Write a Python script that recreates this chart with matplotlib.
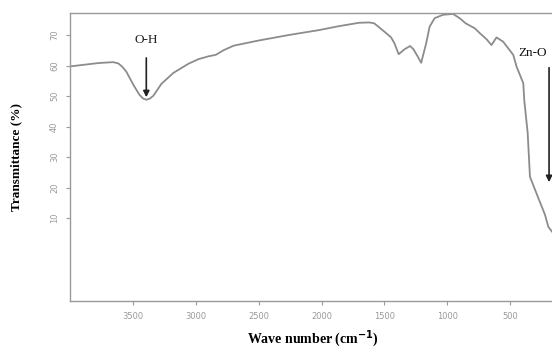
# FT-IR spectrum of ZnO nanoparticles with O-H and Zn-O bands marked.

import matplotlib.pyplot as plt

wavenumber = [4000, 3900, 3777, 3700, 3657, 3617, 3585, 3553, 3497, 3450,
              3420, 3394, 3365, 3338, 3274, 3178, 3058, 2978, 2900, 2841,
              2780, 2699, 2499, 2259, 2020, 1860, 1701, 1620, 1581, 1501,
              1447, 1421, 1387, 1341, 1296, 1269, 1235, 1208, 1168, 1141,
              1101, 1035, 955, 902, 854, 782, 742, 688, 649, 609,
              556, 476, 449, 396, 388, 361, 343, 281, 223, 197, 167]
transmittance = [59.7, 60.2, 60.8, 61.0, 61.1, 60.7, 59.6, 58.0, 53.7, 50.5,
                 49.2, 48.8, 49.2, 50.1, 54.0, 57.6, 60.6, 62.1, 63.0, 63.5,
                 65.0, 66.5, 68.2, 70.0, 71.6, 72.9, 74.0, 74.1, 73.8, 71.1,
                 69.2, 67.3, 63.7, 65.3, 66.4, 65.3, 62.9, 60.9, 67.3, 72.7,
                 75.5, 76.6, 76.9, 75.5, 73.8, 72.2, 70.6, 68.6, 66.7, 69.2,
                 67.8, 63.5, 59.6, 54.2, 48.6, 37.9, 23.6, 17.1, 11.1, 7.2, 5.6]

xticks = [3500, 3000, 2500, 2000, 1500, 1000, 500]
yticks = [10, 20, 30, 40, 50, 60, 70]

grey = '#9a9a9a'

fig = plt.figure(figsize=(5.52, 3.49), dpi=100)
ax = fig.add_axes([0.127, 0.1375, 0.8786, 0.8253])

ax.plot(wavenumber, transmittance, color='#8c8c8c', lw=1.3)

ax.set_xlim(4000, 143)
ax.set_ylim(-17.1, 77.2)
ax.set_xticks(xticks)
ax.set_yticks(yticks)
ax.tick_params(colors=grey, labelsize=6, length=3, width=0.8, pad=5)
ax.tick_params(axis='y', labelrotation=90)
for lbl in ax.get_yticklabels():
    lbl.set_va('center')
for side in ['left', 'bottom', 'top']:
    ax.spines[side].set_color(grey)
    ax.spines[side].set_linewidth(1.0)
ax.spines['right'].set_visible(False)

ax.set_xlabel('Wave number (cm$^{\\mathbf{-1}}$)', family='Liberation Serif',
              fontweight='bold', fontsize=10, labelpad=5)
ax.set_ylabel('Transmittance (%)', family='Liberation Serif',
              fontweight='bold', fontsize=9.5, labelpad=20)

# band labels with arrows
ax.text(3394, 68.4, 'O-H', family='Liberation Serif', fontsize=9.5,
        ha='center', va='center', color='#222222')
ax.annotate('', xy=(3394, 48.7), xytext=(3394, 63.4),
            arrowprops=dict(arrowstyle='-|>', color='#222222', lw=1.2,
                            mutation_scale=9))
ax.text(319, 64.1, 'Zn-O', family='Liberation Serif', fontsize=9.5,
        ha='center', va='center', color='#111111')
ax.annotate('', xy=(191, 20.9), xytext=(191, 60.2),
            arrowprops=dict(arrowstyle='-|>', color='#222222', lw=1.2,
                            mutation_scale=9))

fig.savefig('out.png', dpi=100)
